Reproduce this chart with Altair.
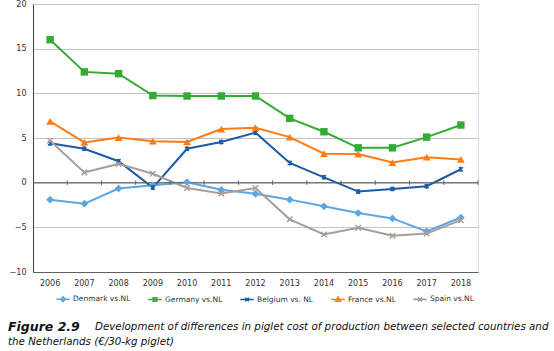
import altair as alt
import pandas as pd

years = [2006, 2007, 2008, 2009, 2010, 2011, 2012, 2013, 2014, 2015, 2016, 2017, 2018]
series = ["Denmark vs.NL", "Germany vs.NL", "Belgium vs. NL", "France vs.NL", "Spain vs.NL"]
denmark = [-1.9, -2.35, -0.65, -0.3, 0.05, -0.8, -1.25, -1.9, -2.65, -3.4, -4.0, -5.45, -3.9]
germany = [16.0, 12.4, 12.2, 9.75, 9.7, 9.7, 9.7, 7.2, 5.7, 3.9, 3.9, 5.1, 6.45]
belgium = [4.4, 3.8, 2.4, -0.55, 3.8, 4.55, 5.6, 2.2, 0.6, -1.0, -0.7, -0.4, 1.5]
france = [6.85, 4.5, 5.05, 4.65, 4.55, 6.0, 6.15, 5.1, 3.25, 3.2, 2.25, 2.85, 2.6]
spain = [4.7, 1.15, 2.1, 1.0, -0.6, -1.2, -0.6, -4.1, -5.8, -5.05, -5.95, -5.7, -4.2]
colors = ["#5ea5e3", "#33aa33", "#1c5ba6", "#ff7b15", "#a89e97"]
y_ticks = [-10, -5, 0, 5, 10, 15, 20]

values_by_series = [denmark, germany, belgium, france, spain]
rows = []
for name, vals in zip(series, values_by_series):
    for yr, v in zip(years, vals):
        rows.append({"Year": str(yr), "Series": name, "Value": v})
df = pd.DataFrame(rows)
years_str = [str(y) for y in years]

FONT = "DejaVu Sans"

legend_paths = [
    "M-1,0H1M0,-0.36L0.36,0L0,0.36L-0.36,0Z",
    "M-1,0H1M-0.26,-0.26H0.26V0.26H-0.26Z",
    "M-1,0H1M-0.26,-0.26L0.26,0.26M-0.26,0.26L0.26,-0.26",
    "M-1,0H1M0,-0.34L0.34,0.26H-0.34Z",
    "M-1,0H1M-0.3,-0.3L0.3,0.3M-0.3,0.3L0.3,-0.3",
]
leg = alt.Legend(title=None, orient="none", direction="horizontal", columns=5,
                 legendX=22, legendY=287, labelFontSize=7.5, labelFont=FONT,
                 labelColor="#333333", symbolSize=180, symbolStrokeWidth=1.6,
                 labelOffset=2, columnPadding=14, symbolOpacity=1)
color_scale = alt.Scale(domain=series, range=colors)

x_enc = alt.X("Year:O", sort=years_str,
              scale=alt.Scale(type="band", paddingInner=0, paddingOuter=0, domain=years_str),
              bandPosition=0.5,
              axis=alt.Axis(title=None, labelAngle=0, ticks=False, tickSize=0, labelPadding=7,
                            domainColor="#606060", labelFontSize=8, labelColor="#333333",
                            labelFont=FONT, grid=False))
y_enc = alt.Y("Value:Q", scale=alt.Scale(domain=[-10, 20], nice=False, zero=False),
              axis=alt.Axis(title=None, values=y_ticks, grid=True, gridColor="#c4c4c4",
                            ticks=False, tickSize=0, labelPadding=7, domainColor="#404040",
                            labelFontSize=8, labelColor="#333333", labelFont=FONT))

base = alt.Chart(df)

zero_line = alt.Chart(pd.DataFrame({"v": [0]})).mark_rule(color="#606060", strokeWidth=1).encode(
    y=alt.Y("v:Q", scale=alt.Scale(domain=[-10, 20], nice=False)))

ticks = alt.Chart(pd.DataFrame({"Year": years_str})).mark_rule(color="#606060", strokeWidth=1).encode(
    x=alt.X("Year:O", sort=years_str, bandPosition=1),
    y=alt.datum(-0.25), y2=alt.datum(0.25))

lines = base.mark_line(strokeWidth=2).encode(
    x=x_enc, y=y_enc,
    color=alt.Color("Series:N", scale=color_scale, legend=leg),
    detail="Series:N")

legend_layer = base.mark_point(filled=False, size=0, strokeWidth=1.6).encode(
    x=alt.X("Year:O", sort=years_str, bandPosition=0.5), y="Value:Q",
    color=alt.Color("Series:N", scale=color_scale, legend=leg),
    shape=alt.Shape("Series:N", scale=alt.Scale(domain=series, range=legend_paths), legend=leg),
)

marker_specs = {
    "Denmark vs.NL": dict(shape="diamond", size=60, filled=True),
    "Germany vs.NL": dict(shape="square", size=55, filled=True),
    "Belgium vs. NL": dict(shape="M-1,-1L1,1M-1,1L1,-1M0,-1.2V1.2", size=16, filled=False, strokeWidth=1.5),
    "France vs.NL": dict(shape="triangle-up", size=60, filled=True),
    "Spain vs.NL": dict(shape="M-1,-1L1,1M-1,1L1,-1", size=30, filled=False, strokeWidth=1.5),
}
point_layers = []
for name, col in zip(series, colors):
    spec = dict(marker_specs[name])
    filled = spec.pop("filled")
    point_layers.append(
        base.transform_filter(alt.datum.Series == name)
        .mark_point(filled=filled, color=col, opacity=1, **spec)
        .encode(x=alt.X("Year:O", sort=years_str, bandPosition=0.5), y="Value:Q")
    )

cap_df = pd.DataFrame({"t": ["x"]})
cap1 = alt.Chart(cap_df).mark_text(text="Figure 2.9", fontWeight="bold", fontStyle="italic",
                                   fontSize=12.5, font=FONT, align="left", baseline="middle",
                                   color="#111111").encode(x=alt.value(-25), y=alt.value(323))
cap2 = alt.Chart(cap_df).mark_text(
    text="Development of differences in piglet cost of production between selected countries and",
    fontStyle="italic", fontSize=10.3, font=FONT, align="left", baseline="middle",
    color="#111111").encode(x=alt.value(62), y=alt.value(323))
cap3 = alt.Chart(cap_df).mark_text(
    text="the Netherlands (€/30-kg piglet)",
    fontStyle="italic", fontSize=10.3, font=FONT, align="left", baseline="middle",
    color="#111111").encode(x=alt.value(-25), y=alt.value(338))

chart = alt.layer(lines, legend_layer, zero_line, ticks, *point_layers, cap1, cap2, cap3).properties(
    width=445, height=268,
    autosize=alt.AutoSizeParams(type="none"),
    padding={"left": 33, "top": 4, "right": 76, "bottom": 79},
).configure_view(stroke="#707070", strokeWidth=1).configure(background="white")

chart.save("out.html", embed_options={"renderer": "svg", "actions": False})
